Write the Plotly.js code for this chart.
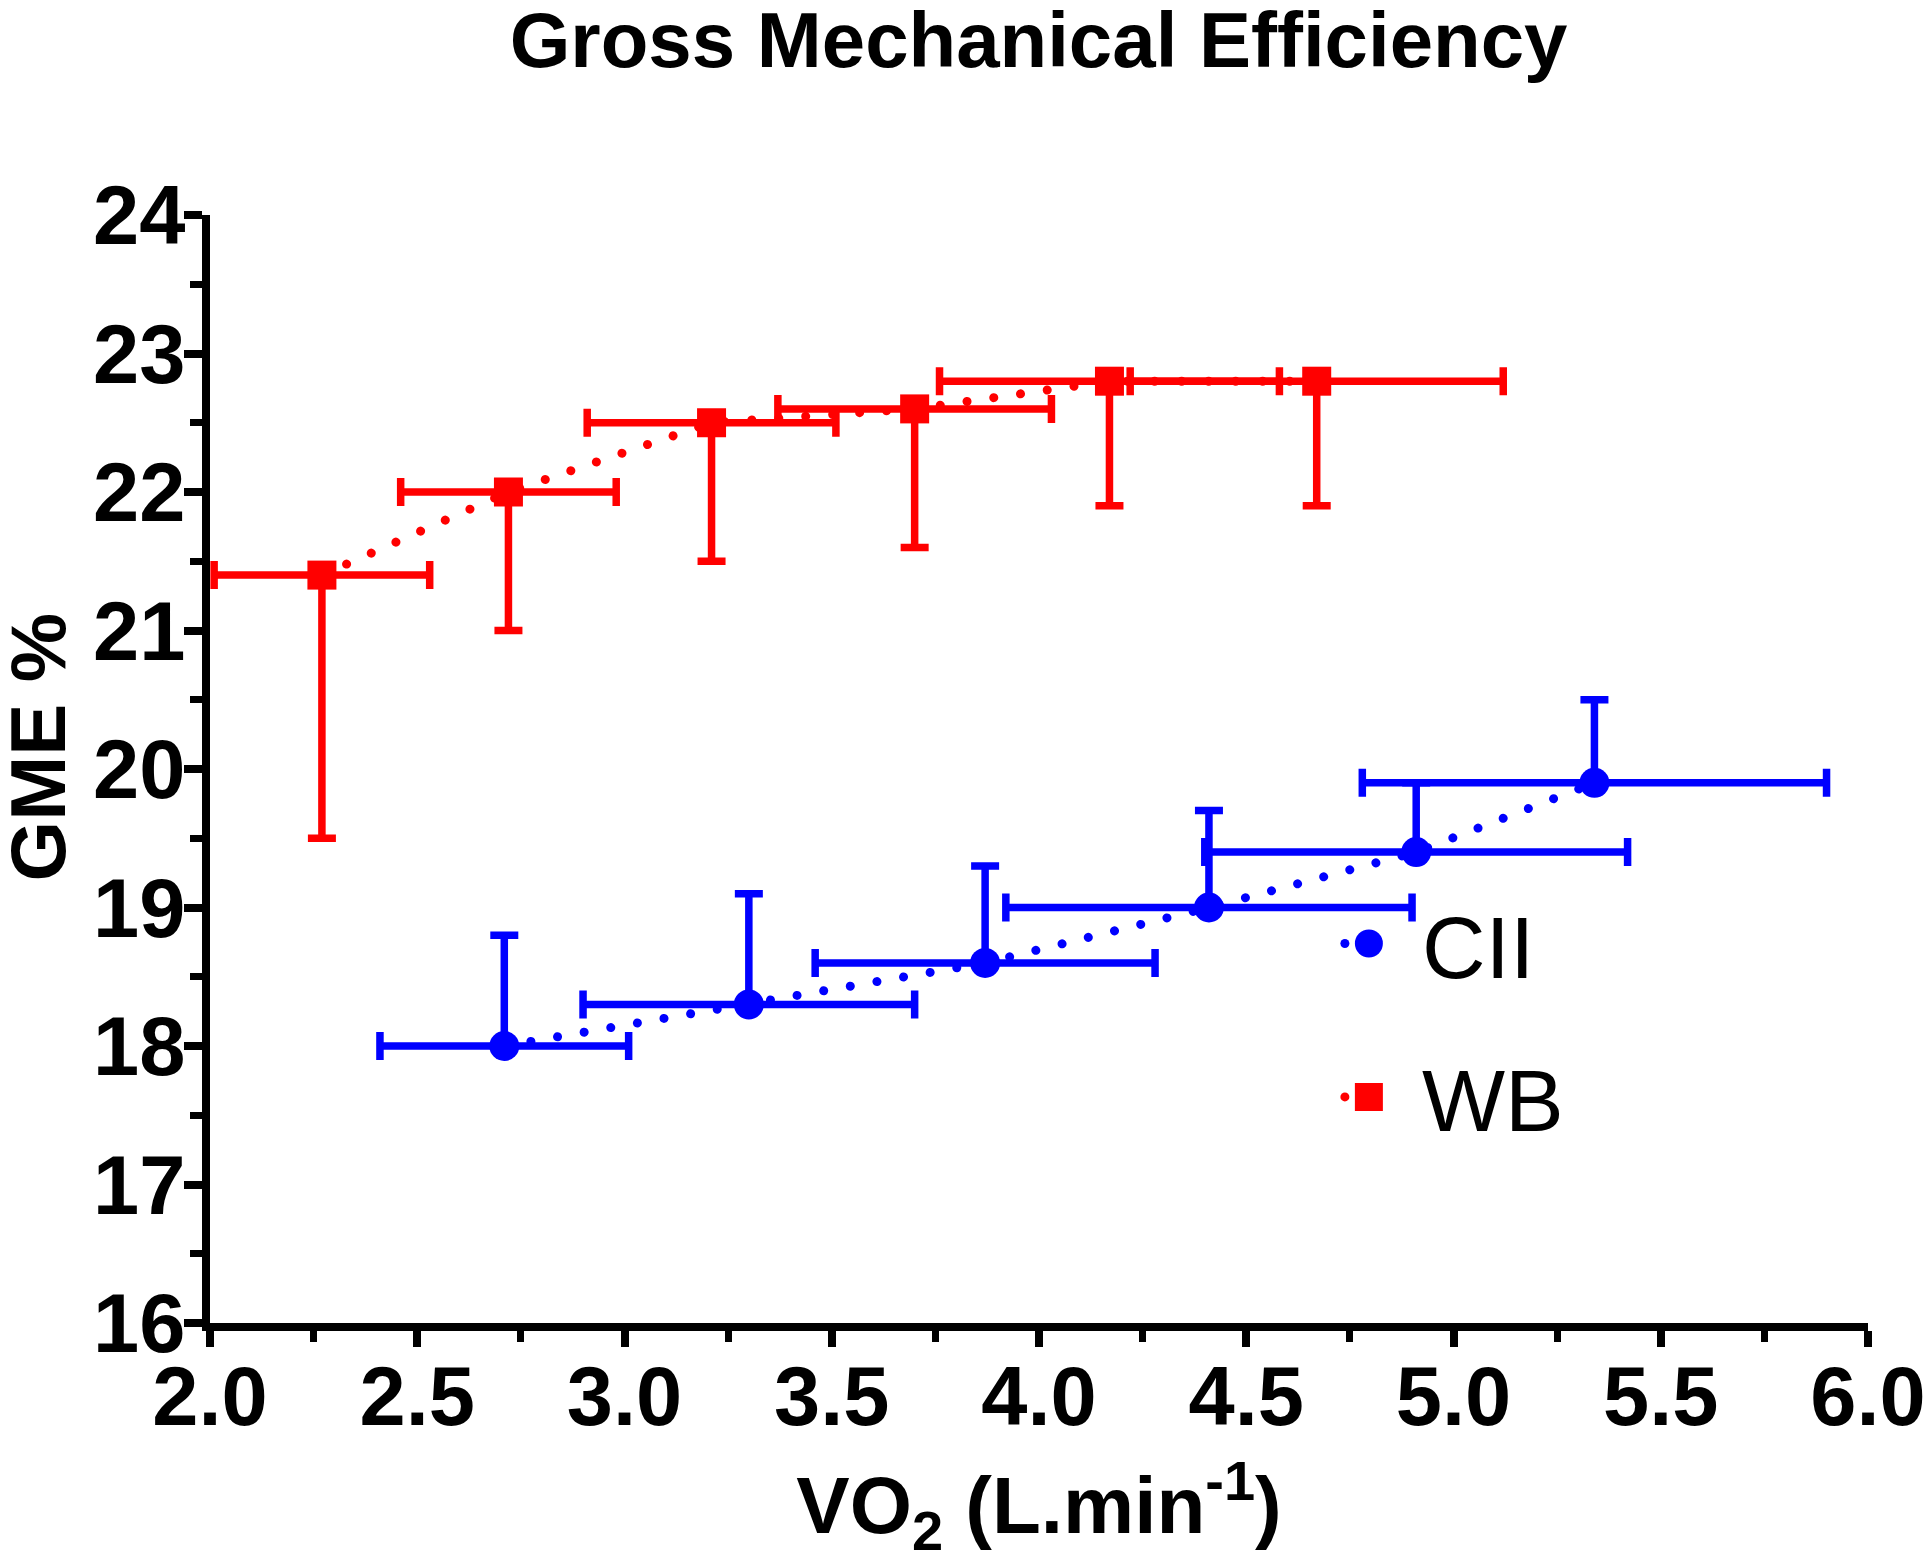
<!DOCTYPE html>
<html>
<head>
<meta charset="utf-8">
<script src="https://cdn.plot.ly/plotly-3.0.1.min.js"></script>
<style>
  html, body { margin: 0; padding: 0; background: #fff; }
  #chart { width: 1929px; height: 1562px; }
</style>
</head>
<body>
<div id="chart"></div>
<script>
// ---- data ----
const ciiVO2      = [2.71, 3.30, 3.87, 4.41, 4.91, 5.34];
const ciiGME      = [18.0, 18.3, 18.6, 19.0, 19.4, 19.9];
const ciiVO2Err   = [0.30, 0.40, 0.41, 0.49, 0.51, 0.56];
const ciiGMEErrUp = [0.8, 0.8, 0.7, 0.7, 0.5, 0.6];

const wbVO2        = [2.27, 2.72, 3.21, 3.70, 4.17, 4.67];
const wbGME        = [21.4, 22.0, 22.5, 22.6, 22.8, 22.8];
const wbVO2Err     = [0.26, 0.26, 0.30, 0.33, 0.41, 0.45];
const wbGMEErrDown = [1.9, 1.0, 1.0, 1.0, 0.9, 0.9];

const xTickVals = [2.0, 2.5, 3.0, 3.5, 4.0, 4.5, 5.0, 5.5, 6.0];
const yTickVals = [16, 17, 18, 19, 20, 21, 22, 23, 24];

const BLUE = 'rgb(0,0,255)';
const RED = 'rgb(255,0,0)';
const FONT = '"Liberation Sans", Arial, Helvetica, sans-serif';

function zeros(n) { return new Array(n).fill(0); }

const traces = [
  {
    name: 'CII', legendgroup: 'cii',
    x: ciiVO2, y: ciiGME, type: 'scatter', mode: 'lines+markers',
    line: { color: BLUE, width: 9, dash: '9px,18px' },
    marker: { symbol: 'circle', size: 30, color: BLUE },
    error_x: { type: 'data', array: ciiVO2Err, symmetric: true, color: BLUE, thickness: 7.5, width: 14 },
    error_y: { type: 'data', array: ciiGMEErrUp, arrayminus: zeros(ciiGME.length), symmetric: false, color: BLUE, thickness: 7.5, width: 14 },
    cliponaxis: false
  },
  {
    name: 'WB', legendgroup: 'wb',
    x: wbVO2, y: wbGME, type: 'scatter', mode: 'lines+markers',
    line: { color: RED, width: 9, dash: '9px,18px' },
    marker: { symbol: 'square', size: 29, color: RED },
    error_x: { type: 'data', array: wbVO2Err, symmetric: true, color: RED, thickness: 7.5, width: 14 },
    error_y: { type: 'data', array: zeros(wbGME.length), arrayminus: wbGMEErrDown, symmetric: false, color: RED, thickness: 7.5, width: 14 },
    cliponaxis: false
  }
];

const layout = {
  width: 1929, height: 1562,
  margin: { l: 210, r: 61, t: 215, b: 239, pad: 0 },
  paper_bgcolor: '#fff', plot_bgcolor: '#fff',
  font: { family: FONT, color: '#000' },
  title: {
    text: 'Gross Mechanical Efficiency',
    font: { family: FONT, size: 78, weight: 700, color: '#000' },
    x: 0.5384, xanchor: 'center', y: 0.992, yanchor: 'top', yref: 'container'
  },
  xaxis: {
    range: [2, 6], autorange: false,
    tickmode: 'array', tickvals: xTickVals, tickformat: '.1f',
    showgrid: false, zeroline: false,
    showline: true, linecolor: '#000', linewidth: 8,
    ticks: 'outside', ticklen: 16, tickwidth: 8, tickcolor: '#000',
    minor: { dtick: 0.25, ticks: 'outside', ticklen: 11, tickwidth: 7, tickcolor: '#000', showgrid: false },
    tickfont: { family: FONT, size: 83, weight: 700, color: '#000' },
    ticklabelstandoff: -22,
    title: {
      text: 'VO<sub>2</sub> (L.min<sup>-1</sup>)',
      font: { family: FONT, size: 80, weight: 700, color: '#000' },
      standoff: 62
    }
  },
  yaxis: {
    range: [16, 24], autorange: false,
    tickmode: 'array', tickvals: yTickVals,
    showgrid: false, zeroline: false,
    showline: true, linecolor: '#000', linewidth: 8,
    ticks: 'outside', ticklen: 18, tickwidth: 8, tickcolor: '#000',
    minor: { dtick: 0.5, ticks: 'outside', ticklen: 12, tickwidth: 7, tickcolor: '#000', showgrid: false },
    tickfont: { family: FONT, size: 83, weight: 700, color: '#000' },
    ticklabelstandoff: -18
  },
  annotations: [
    {
      text: 'GME %', textangle: -90,
      xref: 'paper', yref: 'paper', x: -0.1040, y: 0.5199,
      xanchor: 'center', yanchor: 'middle', showarrow: false,
      font: { family: FONT, size: 78, weight: 700, color: '#000' }
    }
  ],
  showlegend: true,
  legend: {
    x: 0.667, xanchor: 'left', y: 0.40, yanchor: 'top',
    bgcolor: 'rgba(0,0,0,0)', borderwidth: 0,
    font: { family: FONT, size: 88, color: '#000' },
    traceorder: 'grouped', tracegroupgap: 36,
    itemwidth: 96, itemclick: false, itemdoubleclick: false
  }
};

Plotly.newPlot('chart', traces, layout, { staticPlot: true, displayModeBar: false }).then(function (gd) {
  // round dotted connecting lines
  gd.querySelectorAll('.scatterlayer .js-line').forEach(function (p) {
    p.style.strokeLinecap = 'round';
    p.style.strokeDasharray = '0.01px 27px';
  });
  // legend: larger symbols and short dotted stub to the left of the marker
  const c = 96 / 2 + 5;
  gd.querySelectorAll('.legend .legendpoints path.scatterpts').forEach(function (p) {
    const t = p.getAttribute('transform') || '';
    p.setAttribute('transform', t + ' scale(1.75)');
  });
  gd.querySelectorAll('.legend .legendlines path').forEach(function (p) {
    p.setAttribute('d', 'M' + (c - 24) + ',0h24');
    p.style.strokeLinecap = 'round';
    p.style.strokeDasharray = '0.01px 27px';
  });
});
</script>
</body>
</html>
